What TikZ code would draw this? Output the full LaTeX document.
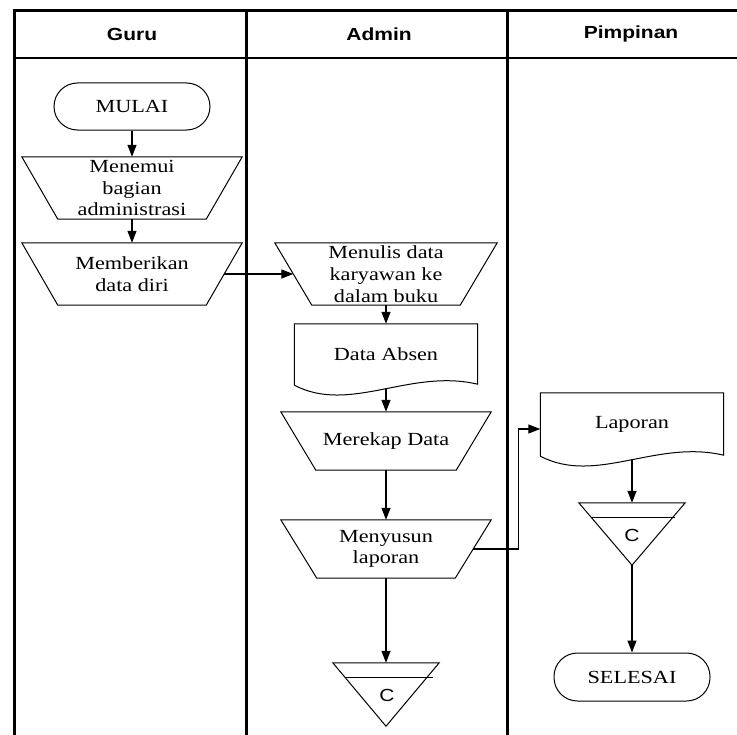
\documentclass[tikz,border=0pt]{standalone}
\usepackage{fontspec}
\setmainfont{Liberation Serif}[FakeStretch=1.2]
\newfontfamily\hdfont{Liberation Sans}[FakeStretch=1.2]
\usetikzlibrary{arrows.meta,calc}

% manual-operation box: name, x, y, top width, height, bottom inset, text
\newcommand\manop[7]{%
  \node[box,minimum width=#4bp,minimum height=#5bp] (#1) at (#2,#3) {#7};
  \draw[outline] (#1.north west) -- (#1.north east)
    -- ([xshift=-#6bp]#1.south east) -- ([xshift=#6bp]#1.south west) -- cycle;}

% document outline with a wavy bottom edge
\newcommand\docshape[1]{%
  \draw[outline] (#1.south west) -- (#1.north west) -- (#1.north east)
    -- ([yshift=1bp]#1.south east)
    .. controls ($(#1.south)+(24,-17)$) and ($(#1.south)+(-36,29)$) .. (#1.south west);}

% off-page connector: inverted triangle with a bar near the top
\newcommand\offpage[2]{%
  \draw[outline] (#1.north west) -- (#1.north east) -- (#1.south) -- cycle;
  \draw[outline] ($(#1.north west)+(12.6,15)$) -- ($(#1.north east)+(#2,15)$);}

\begin{document}
\begin{tikzpicture}[x=1bp,y=-1bp,
  lane/.style={line width=3bp},
  box/.style={inner sep=0pt,align=center,font=\fontsize{18.5bp}{21.7bp}\selectfont},
  term/.style={box,draw,line width=1bp,rounded corners=23.5bp,minimum width=156bp,minimum height=47bp},
  outline/.style={line width=1bp,line join=miter},
  flow/.style={line width=1.2bp,-{Triangle[length=12bp,width=9bp]}},
  head/.style={font=\hdfont\bfseries\fontsize{17.5bp}{20bp}\selectfont},
  conn/.style={font=\hdfont\fontsize{17.5bp}{20bp}\selectfont}]

\useasboundingbox (0,0) rectangle (737,735);

% swimlane frame
\draw[lane] (14,9.5) -- (14,735);
\draw[lane] (246,11) -- (246,735);
\draw[lane] (507,11) -- (507,735);
\draw[line width=3bp] (12.5,11) -- (737,11);
\draw[line width=2bp] (14,58) -- (737,58);

\node[head] (hguru) at (132,34) {Guru};
\node[head] (hadmin) at (379,34) {Admin};
\node[head] (hpimp) at (631,34) {Pimpinan};

% Guru lane
\node[term] (mulai) at (132,106.5) {MULAI};
\manop{temui}{132}{188}{220}{62}{36}{Menemui\\bagian\\administrasi}
\manop{beri}{132}{274}{220}{62}{36}{Memberikan\\data diri}

% Admin lane
\manop{tulis}{386}{274}{222}{62}{37}{Menulis data\\karyawan ke\\dalam buku}
\node[box,minimum width=183bp,minimum height=61bp] (absen) at (386,354.5) {Data Absen};
\docshape{absen}
\manop{rekap}{386}{441}{210}{58}{35}{Merekap Data}
\manop{susun}{386}{549}{210}{58}{36}{Menyusun\\laporan}
\node[inner sep=0pt,minimum width=106bp,minimum height=63bp] (c1) at (386,694.5) {};
\offpage{c1}{-6}
\node[conn] (c1t) at (387,695) {C};

% Pimpinan lane
\node[box,minimum width=183bp,minimum height=63bp] (lap) at (632,424.5) {Laporan};
\docshape{lap}
\node[inner sep=0pt,minimum width=106bp,minimum height=62bp] (c2) at (632,534) {};
\offpage{c2}{-10.6}
\node[conn] (c2t) at (632,535) {C};
\node[term,minimum height=48bp] (selesai) at (632,677) {SELESAI};

% flow lines
\draw[flow] (mulai.south) -- (temui.north);
\draw[flow] (temui.south) -- (beri.north);
\draw[flow] ($(beri.north east)!0.5!([xshift=-36bp]beri.south east)$)
  -- ($(tulis.north west)!0.5!([xshift=37bp]tulis.south west)$);
\draw[flow] (tulis.south) -- (absen.north);
\draw[flow] ([yshift=-4bp]absen.south) -- (rekap.north);
\draw[flow] (rekap.south) -- (susun.north);
\draw[flow] (susun.south) -- (c1.north);
\draw[flow] ($(susun.north east)!0.5!([xshift=-36bp]susun.south east)$)
  -- ++(45,0) |- ([yshift=-4.5bp]lap.west);
\draw[flow] ([yshift=-4bp]lap.south) -- (c2.north);
\draw[flow] (c2.south) -- (selesai.north);
\end{tikzpicture}
\end{document}
